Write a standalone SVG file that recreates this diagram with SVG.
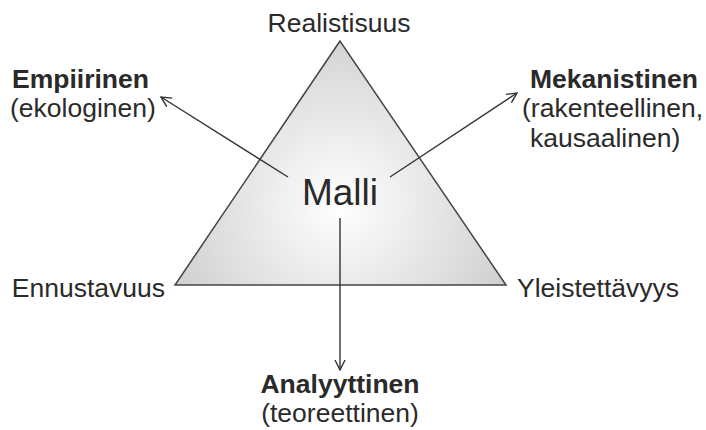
<svg xmlns="http://www.w3.org/2000/svg" width="706" height="430" viewBox="0 0 706 430">
<style>
text{font-family:"Liberation Sans",Arial,sans-serif;fill:#2a2a2a;font-size:26.5px}
.b{font-weight:bold;font-size:26.5px}
.c{stroke:#333;stroke-width:1.4;fill:none}
</style>
<defs>
<radialGradient id="g" cx="340" cy="205" r="190" gradientUnits="userSpaceOnUse">
<stop offset="0" stop-color="#ffffff"/>
<stop offset="1" stop-color="#cdcdcd"/>
</radialGradient>
<marker id="a" viewBox="0 0 12 12" refX="11" refY="6" markerWidth="12" markerHeight="12" markerUnits="userSpaceOnUse" orient="auto">
<path d="M1,1 L11,6 L1,11" fill="none" stroke="#333" stroke-width="1.4"/>
</marker>
</defs>
<rect width="706" height="430" fill="#fff"/>
<g id="triangle">
<polygon points="340,41 175,285 506,285" fill="url(#g)" stroke="#444" stroke-width="1.5"/>
</g>
<g id="connectors">
<line class="c" x1="288" y1="177" x2="161" y2="97" marker-end="url(#a)"/>
<line class="c" x1="390" y1="177" x2="517" y2="93" marker-end="url(#a)"/>
<line class="c" x1="340" y1="218" x2="340" y2="370" marker-end="url(#a)"/>
</g>
<g id="malli"><text x="340" y="205" text-anchor="middle" style="font-size:37px">Malli</text></g>
<g id="realistisuus"><text x="339" y="32" text-anchor="middle">Realistisuus</text></g>
<g id="ennustavuus"><text x="165" y="297" text-anchor="end">Ennustavuus</text></g>
<g id="yleistettavyys"><text x="517" y="297">Yleistettävyys</text></g>
<g id="empiirinen"><text class="b" x="12" y="88">Empiirinen</text><text x="10" y="117">(ekologinen)</text></g>
<g id="mekanistinen"><text class="b" x="530" y="88">Mekanistinen</text><text x="522" y="117">(rakenteellinen,</text><text x="530" y="147">kausaalinen)</text></g>
<g id="analyyttinen"><text class="b" x="340" y="393" text-anchor="middle">Analyyttinen</text><text x="340" y="422" text-anchor="middle">(teoreettinen)</text></g>
</svg>
